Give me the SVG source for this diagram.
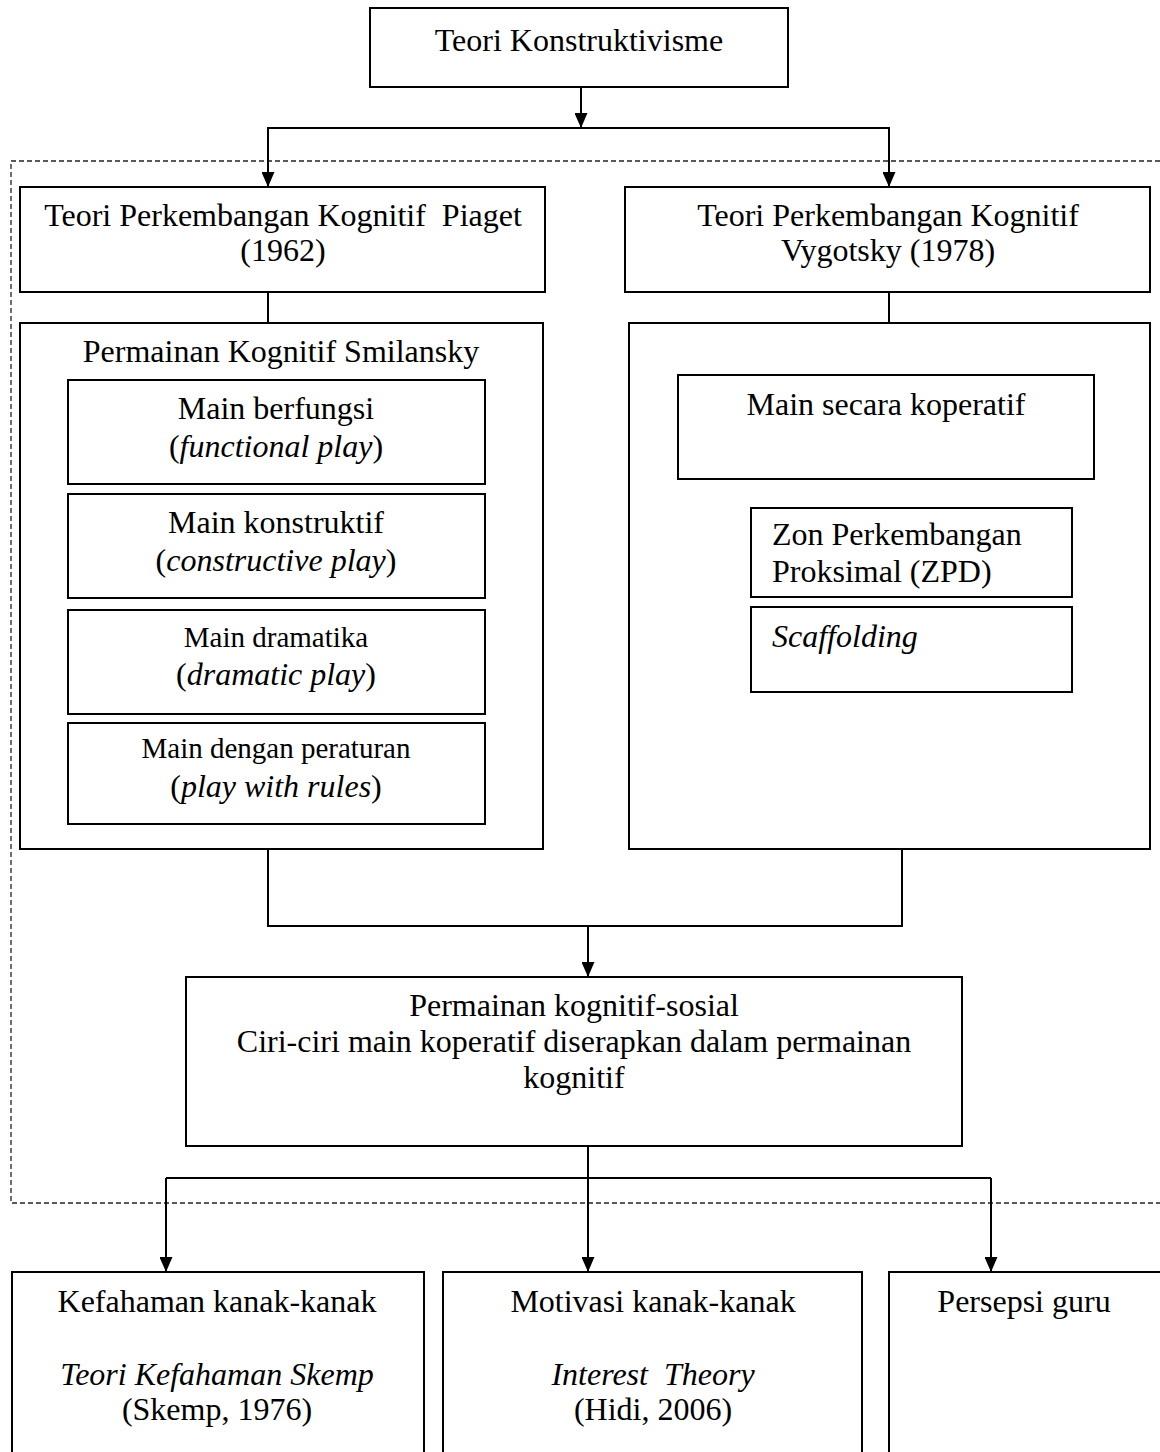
<svg xmlns="http://www.w3.org/2000/svg" width="1160" height="1452" viewBox="0 0 1160 1452">
<style>
.box{fill:#fff;stroke:#000;stroke-width:2}
.ln{fill:none;stroke:#000;stroke-width:2}
.dash{fill:none;stroke:#222;stroke-width:1.3;stroke-dasharray:5 3}
text{font-family:"Liberation Serif","Times New Roman",serif;font-size:32px;fill:#000}
.c{text-anchor:middle}
.s{font-size:29px}
.i{font-style:italic}
.pre{white-space:pre}
</style>
<defs>
<marker id="ah" markerUnits="userSpaceOnUse" markerWidth="15" markerHeight="13" refX="15" refY="6.5" orient="auto">
<path d="M0,0 L15,6.5 L0,13 z" fill="#000"/>
</marker>
</defs>
<rect width="1160" height="1452" fill="#fff"/>
<path class="dash" d="M1160,161 H11 V1203 H1160"/>
<g id="connectors">
<line class="ln" x1="581" y1="87" x2="581" y2="128" marker-end="url(#ah)"/>
<path class="ln" d="M268,187 V128 H889 V187"/>
<line class="ln" x1="268" y1="128" x2="268" y2="187" marker-end="url(#ah)"/>
<line class="ln" x1="889" y1="128" x2="889" y2="187" marker-end="url(#ah)"/>
<line class="ln" x1="268" y1="292" x2="268" y2="323"/>
<line class="ln" x1="889" y1="292" x2="889" y2="323"/>
<path class="ln" d="M711,479 V553 H751" marker-end="url(#ah)"/>
<path class="ln" d="M699,479 V640 H751" marker-end="url(#ah)"/>
<path class="ln" d="M268,849 V926 H902 V849"/>
<line class="ln" x1="588" y1="926" x2="588" y2="977" marker-end="url(#ah)"/>
<path class="ln" d="M588,1146 V1178 M166,1178 H991"/>
<line class="ln" x1="166" y1="1178" x2="166" y2="1272" marker-end="url(#ah)"/>
<line class="ln" x1="588" y1="1178" x2="588" y2="1272" marker-end="url(#ah)"/>
<line class="ln" x1="991" y1="1178" x2="991" y2="1272" marker-end="url(#ah)"/>
</g>
<g id="n-konstruktivisme">
<rect class="box" x="370" y="8" width="418" height="79"/>
<text class="c" x="579" y="51">Teori Konstruktivisme</text>
</g>
<g id="n-piaget">
<rect class="box" x="20" y="187" width="525" height="105"/>
<text class="c pre" x="283" y="226">Teori Perkembangan Kognitif  Piaget</text>
<text class="c" x="283" y="261">(1962)</text>
</g>
<g id="n-vygotsky">
<rect class="box" x="625" y="187" width="525" height="105"/>
<text class="c" x="888" y="226">Teori Perkembangan Kognitif</text>
<text class="c" x="888" y="261">Vygotsky (1978)</text>
</g>
<g id="n-smilansky">
<rect class="box" x="20" y="323" width="523" height="526"/>
<text class="c" x="281" y="362">Permainan Kognitif Smilansky</text>
</g>
<g id="n-functional">
<rect class="box" x="68" y="380" width="417" height="104"/>
<text class="c" x="276" y="419">Main berfungsi</text>
<text class="c" x="276" y="457">(<tspan class="i">functional play</tspan>)</text>
</g>
<g id="n-constructive">
<rect class="box" x="68" y="494" width="417" height="104"/>
<text class="c" x="276" y="533">Main konstruktif</text>
<text class="c" x="276" y="571">(<tspan class="i">constructive play</tspan>)</text>
</g>
<g id="n-dramatic">
<rect class="box" x="68" y="610" width="417" height="104"/>
<text class="c s" x="276" y="647">Main dramatika</text>
<text class="c" x="276" y="685">(<tspan class="i">dramatic play</tspan>)</text>
</g>
<g id="n-rules">
<rect class="box" x="68" y="723" width="417" height="101"/>
<text class="c s" x="276" y="758">Main dengan peraturan</text>
<text class="c" x="276" y="797">(<tspan class="i">play with rules</tspan>)</text>
</g>
<g id="n-vygotsky-container">
<rect class="box" x="629" y="323" width="521" height="526"/>
</g>
<g id="n-koperatif">
<rect class="box" x="678" y="375" width="416" height="104"/>
<text class="c" x="886" y="415">Main secara koperatif</text>
</g>
<g id="n-zpd">
<rect class="box" x="751" y="508" width="321" height="89"/>
<text x="772" y="545">Zon Perkembangan</text>
<text x="772" y="582">Proksimal (ZPD)</text>
</g>
<g id="n-scaffolding">
<rect class="box" x="751" y="607" width="321" height="85"/>
<text class="i" x="772" y="647">Scaffolding</text>
</g>
<g id="n-sosial">
<rect class="box" x="186" y="977" width="776" height="169"/>
<text class="c" x="574" y="1016">Permainan kognitif-sosial</text>
<text class="c" x="574" y="1052">Ciri-ciri main koperatif diserapkan dalam permainan</text>
<text class="c" x="574" y="1088">kognitif</text>
</g>
<g id="n-kefahaman">
<rect class="box" x="12" y="1272" width="412" height="200"/>
<text class="c" x="217" y="1312">Kefahaman kanak-kanak</text>
<text class="c i" x="217" y="1385">Teori Kefahaman Skemp</text>
<text class="c" x="217" y="1420">(Skemp, 1976)</text>
</g>
<g id="n-motivasi">
<rect class="box" x="443" y="1272" width="419" height="200"/>
<text class="c" x="653" y="1312">Motivasi kanak-kanak</text>
<text class="c i pre" x="653" y="1385">Interest  Theory</text>
<text class="c" x="653" y="1420">(Hidi, 2006)</text>
</g>
<g id="n-persepsi">
<rect class="box" x="889" y="1272" width="300" height="200"/>
<text class="c" x="1024" y="1312">Persepsi guru</text>
</g>
</svg>
